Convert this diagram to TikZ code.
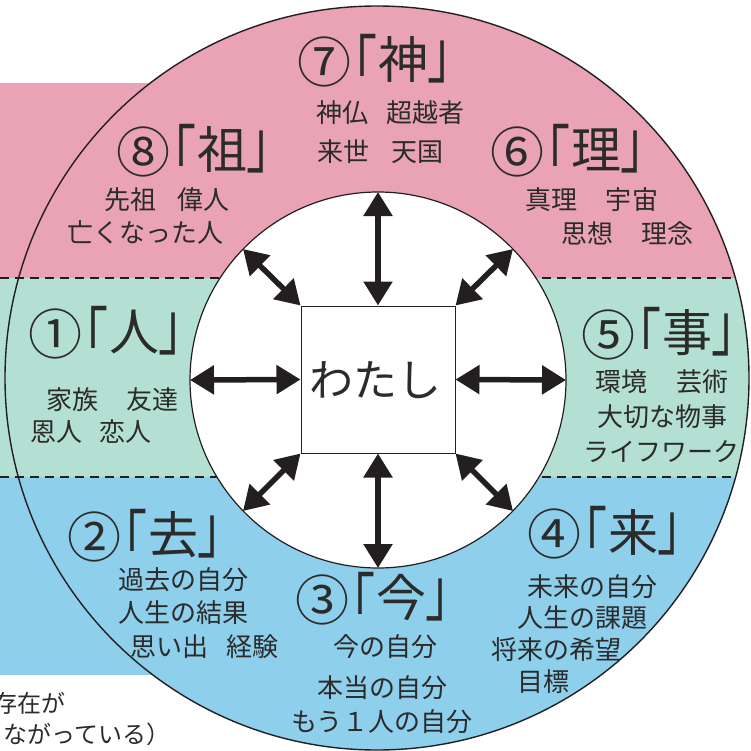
\documentclass[tikz,border=0pt]{standalone}
\usepackage{fontspec}
\usepackage{graphicx}
\newfontfamily\jp{Noto Sans CJK JP}
\usetikzlibrary{arrows.meta}
\definecolor{pinkb}{HTML}{E9A3B5}
\definecolor{greenb}{HTML}{B4E0D3}
\definecolor{blueb}{HTML}{8ECFEC}
\definecolor{ink}{HTML}{231F20}
\definecolor{txt}{HTML}{2B2B2B}
\newcommand\circf{\jp\fontsize{54}{54}\selectfont}
\newcommand\kanf{\jp\fontsize{50}{50}\selectfont}
\newcommand\brkf{\jp\fontsize{48}{48}\selectfont}
\newsavebox\tbx
\newcommand\vc[2]{\sbox\tbx{#2}\raisebox{\dimexpr #1-(\ht\tbx-\dp\tbx)/2\relax}{\usebox\tbx}}
\tikzset{
  titl/.style={text=txt, inner sep=0pt, anchor=base west},
  body/.style={font=\jp\fontsize{26}{30}\selectfont, text=txt, inner sep=0pt},
  note/.style={font=\jp\fontsize{24}{28}\selectfont, text=txt, inner sep=0pt},
  dbl/.style={draw=ink, line width=5.5pt, {Triangle[length=24pt,width=28pt]}-{Triangle[length=24pt,width=28pt]}},
  band/.style={dash pattern=on 9pt off 6pt, line width=1.2pt, draw=ink}
}
% #1 name, #2 x of the kanji centre, #3 y of the kanji centre, #4 circled digit, #5 kanji
\newcommand\ttl[5]{%
  \node[titl] (#1) at ({#2-106},#3) {%
    \vc{-2pt}{\circf #4}\kern-4pt%
    \vc{-2pt}{\makebox[30pt][r]{\brkf\scalebox{1}[1.36]{「}}}\kern1pt%
    \vc{0pt}{\kanf #5}\kern-1pt%
    \vc{-2pt}{\makebox[30pt][l]{\brkf\scalebox{1}[1.36]{」}}}};
}
\begin{document}
\begin{tikzpicture}[x=1pt,y=-1pt]
\useasboundingbox (0,0) rectangle (751,751);
\clip (0,0) rectangle (751,751);
% left bands outside circle
\fill[pinkb] (0,83) rectangle (377,278);
\fill[greenb] (0,278) rectangle (377,477);
\fill[blueb] (0,477) rectangle (377,675);
% bands inside outer circle
\begin{scope}
\clip (377,378) circle[radius=372pt];
\fill[pinkb] (0,0) rectangle (751,278);
\fill[greenb] (0,278) rectangle (751,477);
\fill[blueb] (0,477) rectangle (751,751);
\draw[band] (377,278) -- (751,278);
\draw[band] (377,477) -- (751,477);
\end{scope}
\draw[band] (0,278) -- (377,278);
\draw[band] (0,477) -- (377,477);
\draw[ink, line width=1.4pt] (377,378) circle[radius=372pt];
% inner circle
\filldraw[fill=white, draw=ink, line width=1.2pt] (378,380) circle[radius=188pt];
% center square
\node[draw=ink, line width=1pt, minimum width=154pt, minimum height=147pt, inner sep=0pt] (me) at (378,379.5) {};
\node[font=\jp\fontsize{44}{48}\selectfont, text=txt, inner sep=0pt] (wt) at (375.5,380) {わたし};
% inner circle points
\coordinate (pN) at (378,192);
\coordinate (pS) at (378,568);
\coordinate (pW) at (190,380);
\coordinate (pE) at (566,380);
\coordinate (pNW) at (243,249);
\coordinate (pNE) at (513,249);
\coordinate (pSW) at (243,511);
\coordinate (pSE) at (513,511);
\draw[dbl] (me.north) -- (pN);
\draw[dbl] (me.south) -- (pS);
\draw[dbl] (me.west) -- (pW);
\draw[dbl] (me.east) -- (pE);
\draw[dbl] (me.north west) -- (pNW);
\draw[dbl] (me.north east) -- (pNE);
\draw[dbl] (me.south west) -- (pSW);
\draw[dbl] (me.south east) -- (pSE);
% 7
\ttl{t7}{403.5}{60}{⑦}{神}
\node[body] (t7a) at (390.5,113) {神仏\hspace{17.5pt}超越者};
\node[body] (t7b) at (380.5,152) {来世\hspace{22.5pt}天国};
% 8
\ttl{t8}{222.5}{150}{⑧}{祖}
\node[body] (t8a) at (167,200) {先祖\hspace{20.5pt}偉人};
\node[body] (t8b) at (145,233) {亡くなった人};
% 6
\ttl{t6}{596}{150}{⑥}{理}
\node[body] (t6a) at (591.5,200) {真理\hspace{29pt}宇宙};
\node[body] (t6b) at (627.5,233) {思想\hspace{27.5pt}理念};
% 1
\ttl{t1}{134.5}{332}{①}{人}
\node[body] (t1a) at (112.5,400) {家族\hspace{29pt}友達};
\node[body] (t1b) at (91,432) {恩人\hspace{16.5pt}恋人};
% 5
\ttl{t5}{687}{333}{⑤}{事}
\node[body] (t5a) at (662,382) {環境\hspace{28.5pt}芸術};
\node[body] (t5b) at (662,417) {大切な物事};
\node[body] (t5c) at (661,452) {ライフワーク};
% 2
\ttl{t2}{173.5}{535}{②}{去}
\node[body] (t2a) at (183,580) {過去の自分};
\node[body] (t2b) at (183.5,613) {人生の結果};
\node[body] (t2c) at (204.5,647) {思い出\hspace{17.5pt}経験};
% 3
\ttl{t3}{401}{598}{③}{今}
\node[body] (t3a) at (385,647) {今の自分};
\node[body] (t3b) at (382.5,688) {本当の自分};
\node[body] (t3c) at (382,722) {もう１人の自分};
% 4
\ttl{t4}{633.5}{532}{④}{来}
\node[body] (t4a) at (592.5,587) {未来の自分};
\node[body] (t4b) at (582,618) {人生の課題};
\node[body] (t4c) at (556,650) {将来の希望};
\node[body] (t4d) at (543,682) {目標};
% bottom-left note (cut off at the edge, as in the reference)
\node[note, anchor=east] (n1) at (66,703) {存在が};
\node[note, anchor=west] (n2) at (3,734) {ながっている）};
\end{tikzpicture}
\end{document}
